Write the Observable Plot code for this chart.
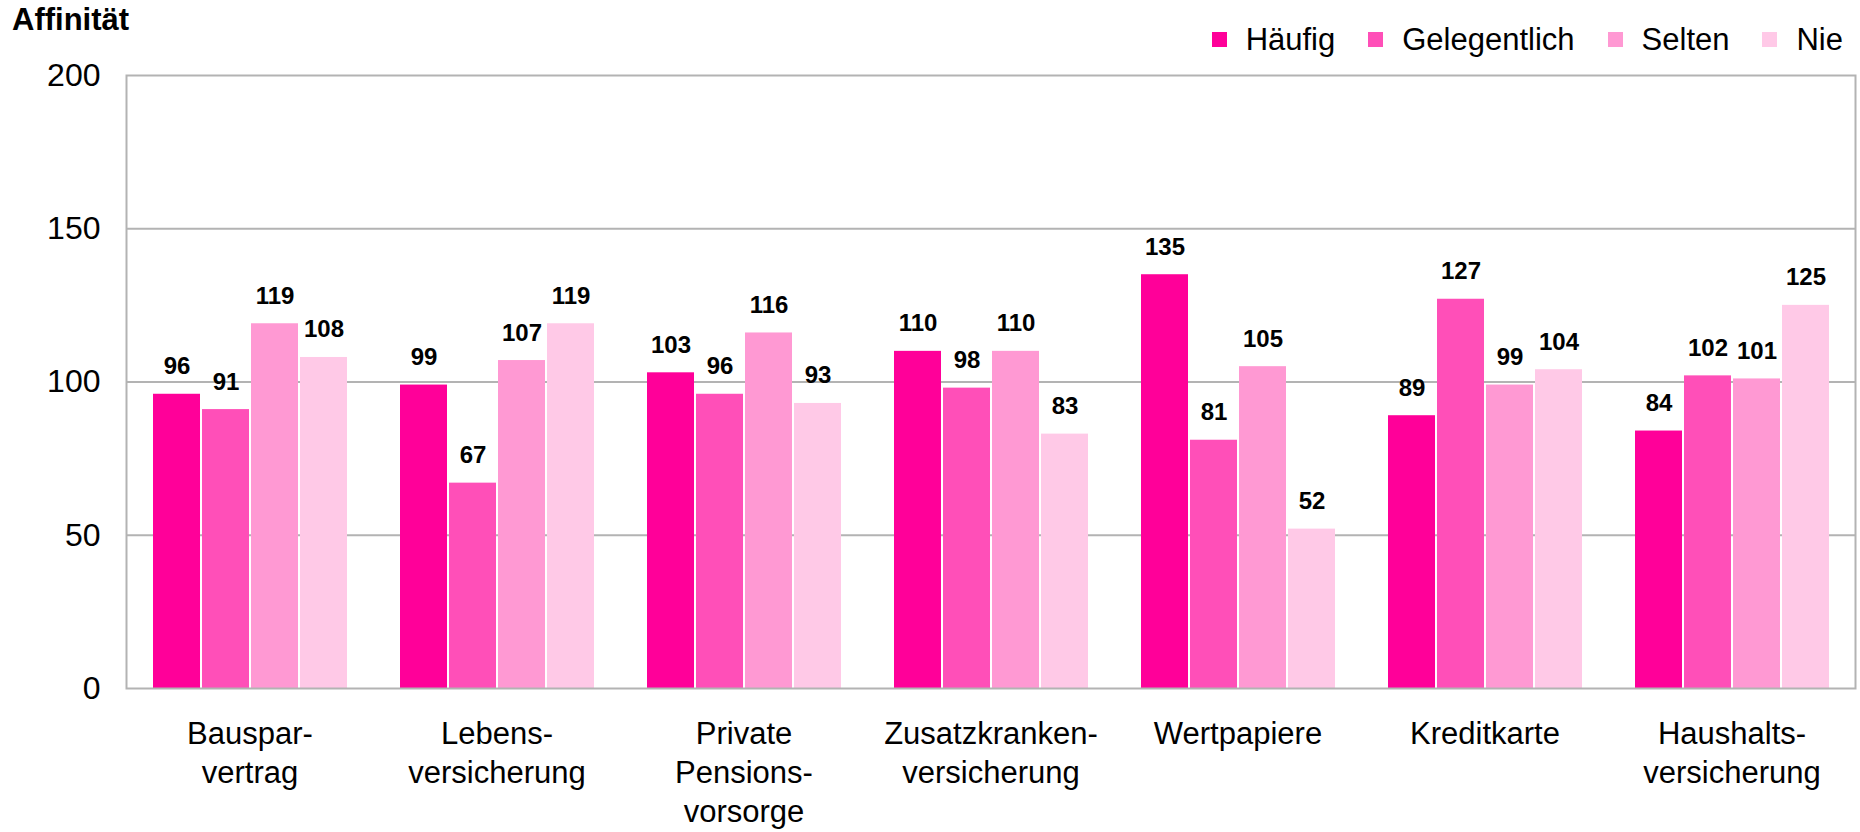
<!DOCTYPE html>
<html><head><meta charset="utf-8">
<script src="https://cdn.jsdelivr.net/npm/d3@7"></script>
<script src="https://cdn.jsdelivr.net/npm/@observablehq/plot@0.6"></script>
<style>
body{margin:0;background:#fff;}
#wrap{position:relative;width:1860px;height:832px;font-family:"Liberation Sans",Arial,sans-serif;color:#000;}
#title{position:absolute;left:12px;top:2px;font-weight:bold;font-size:31px;line-height:1.15;}
#legend{position:absolute;right:17px;top:22px;display:flex;align-items:center;font-size:31px;line-height:1.15;}
.item{display:flex;align-items:center;margin-left:33px;}
.item:first-child{margin-left:0;}
.sw{width:15px;height:15px;margin-right:19px;}
#chart{position:absolute;left:0;top:50px;}
</style></head>
<body>
<div id="wrap">
  <div id="title">Affinität</div>
  <div id="legend"></div>
  <div id="chart"></div>
</div>
<script>
const categories = ["Bauspar-\nvertrag","Lebens-\nversicherung","Private\nPensions-\nvorsorge","Zusatzkranken-\nversicherung","Wertpapiere","Kreditkarte","Haushalts-\nversicherung"];
const series = ["Häufig","Gelegentlich","Selten","Nie"];
const colors = ["#FF0099","#FF4FB8","#FF99D3","#FFC9E7"];
const haeufig      = [96, 99, 103, 110, 135, 89, 84];
const gelegentlich = [91, 67, 96, 98, 81, 127, 102];
const selten       = [119, 107, 116, 110, 105, 99, 101];
const nie          = [108, 119, 93, 83, 52, 104, 125];
const yTicks = [0, 50, 100, 150, 200];
const gridValues = [50, 100, 150];

const seriesValues = [haeufig, gelegentlich, selten, nie];
const data = categories.flatMap((c, i) => series.map((s, j) => ({cat: c, ser: s, v: seriesValues[j][i]})));

const legend = document.getElementById("legend");
series.forEach((s, j) => {
  const it = document.createElement("div");
  it.className = "item";
  it.innerHTML = `<span class="sw" style="background:${colors[j]}"></span><span>${s}</span>`;
  legend.appendChild(it);
});

const chart = Plot.plot({
  width: 1860,
  height: 782,
  marginTop: 25,
  marginBottom: 144,
  marginLeft: 123,
  marginRight: 3,
  style: {fontFamily: "'Liberation Sans', Arial, sans-serif", background: "transparent", color: "#000", overflow: "visible"},
  fx: {domain: categories, padding: 0, label: null, axis: null},
  x: {domain: series, paddingInner: 0, paddingOuter: 0.5, axis: null},
  y: {domain: [0, 200], axis: null},
  color: {domain: series, range: colors},
  marks: [
    Plot.ruleY(gridValues, {stroke: "#b3b3b3", strokeWidth: 2}),
    Plot.barY(data, {fx: "cat", x: "ser", y: "v", fill: "ser", insetLeft: 1, insetRight: 1}),
    Plot.text(data, {fx: "cat", x: "ser", y: "v", text: d => String(d.v), dy: -20, lineAnchor: "bottom", fontWeight: "bold", fontSize: 24, fill: "#000"}),
    Plot.frame({facet: "super", stroke: "#b3b3b3", strokeWidth: 2}),
    Plot.axisY({ticks: yTicks, tickSize: 0, tickPadding: 26, fontSize: 32, label: null}),
    Plot.axisFx({anchor: "bottom", tickSize: 0, tickPadding: 28, fontSize: 31, lineHeight: 1.25, label: null})
  ]
});
document.getElementById("chart").appendChild(chart);
</script>
</body></html>
